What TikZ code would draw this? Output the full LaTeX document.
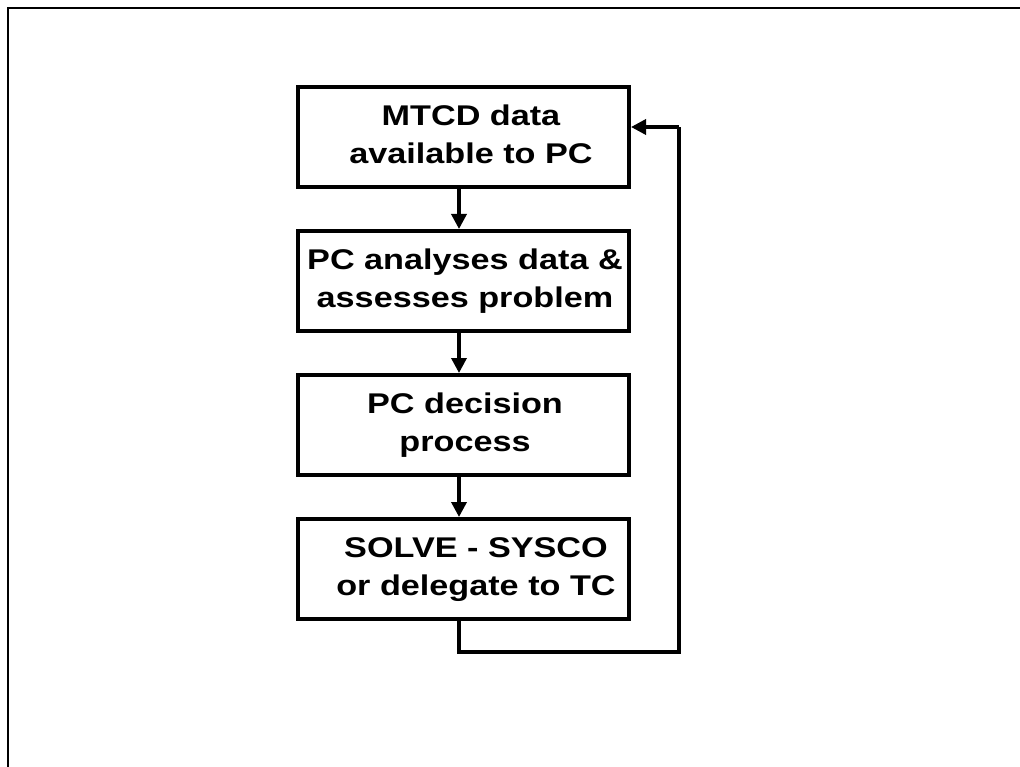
\documentclass[tikz,border=0pt]{standalone}
\usepackage{fontspec}
\usepackage{graphicx}
\setmainfont{Liberation Sans}
\usetikzlibrary{arrows.meta}
\newcommand\widetext[1]{\scalebox{1.2}[1]{\begin{tabular}{@{}c@{}}#1\end{tabular}}}
\begin{document}
\begin{tikzpicture}[x=1pt,y=-1pt,
  boxtext/.style={align=center, font=\fontsize{28.5}{38}\selectfont\bfseries, inner sep=0pt},
  box/.style={draw=black, line width=4pt, minimum width=331pt, minimum height=100pt, inner sep=0pt},
  arr/.style={line width=3.5pt, -{Triangle[length=15pt,width=15pt]}},
  fb/.style={line width=3.5pt}]
\useasboundingbox (0,0) rectangle (1020,767);
\draw[line width=2pt] (8,767) -- (8,8) -- (1020,8);
\node[box] (b1) at (463.5,137) {};
\node[box] (b2) at (463.5,281) {};
\node[box] (b3) at (463.5,425) {};
\node[box] (b4) at (463.5,569) {};
\node[boxtext] (t1) at (471,137) {\widetext{MTCD data\\available to PC}};
\node[boxtext] (t2) at (465,281) {\widetext{PC analyses data \&\\assesses problem}};
\node[boxtext] (t3) at (465,425) {\widetext{PC decision\\process}};
\node[boxtext] (t4) at (476,569) {\widetext{SOLVE - SYSCO\\or delegate to TC}};
\coordinate (ax) at (459,0);
\coordinate (c1) at (679,652);
\coordinate (c2) at (679,127);
\draw[arr] (b1.south -| ax) -- (b2.north -| ax);
\draw[arr] (b2.south -| ax) -- (b3.north -| ax);
\draw[arr] (b3.south -| ax) -- (b4.north -| ax);
\draw[fb] (b4.south -| ax) |- (c1) -- (c2);
\draw[arr] (c2) -- (c2 -| b1.east);
\end{tikzpicture}
\end{document}
